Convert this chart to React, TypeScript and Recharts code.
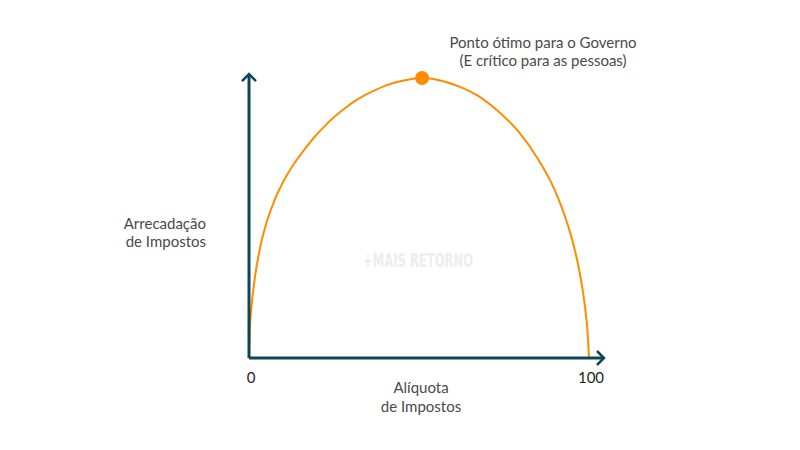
import React from "react";
import { LineChart, Line, XAxis, YAxis, ReferenceLine, ReferenceDot } from "recharts";

// Laffer-style curve (x: tax rate %, y: revenue %)
const rates = [
  0, 0.2, 0.8, 1.8, 3.2, 4.7, 7.6, 10.6, 13.5, 16.5, 19.4, 22.4, 25.3, 28.2, 31.2, 34.1, 37.1, 40.0, 42.9, 45.9, 50.9,
  55.6, 61.5, 67.4, 73.2, 79.1, 85.0, 88.8, 90.9, 92.9, 94.5, 95.9, 97.1, 98.1, 99.0, 99.6, 100,
];
const revenue = [
  0, 9, 19, 29.3, 39, 46.5, 56.6, 64.1, 69.8, 74.8, 79.1, 83, 86.3, 89.2, 91.8, 93.9, 95.7, 97.2, 98.4, 99.2, 100,
  99.3, 97.1, 93.6, 88.2, 81.1, 71.1, 62.9, 57.2, 50.7, 44.6, 38.2, 31.5, 24.5, 16.5, 9, 0,
];
const xTicks = [0, 100];
const peak = { x: 50.9, y: 100 };
const peakLabel = ["Ponto ótimo para o Governo", "(E crítico para as pessoas)"];
const yLabel = ["Arrecadação", "de Impostos"];
const xLabel = ["Alíquota", "de Impostos"];

const AXIS = "#0f4656";
const ORANGE = "#ff8c00";
const TEXT = "#4a4a4a";
const FONT = "Lato, 'Open Sans', sans-serif";

const data = rates.map((r, i) => ({ rate: r, revenue: revenue[i] }));

const Arrow = (props: any) => {
  const { x1, y1, x2, y2 } = props;
  const dx = x2 - x1;
  const dy = y2 - y1;
  const len = Math.sqrt(dx * dx + dy * dy) || 1;
  const ux = dx / len;
  const uy = dy / len;
  const s = 7;
  const p1 = `${x2 - ux * s - uy * s},${y2 - uy * s + ux * s}`;
  const p2 = `${x2 - ux * s + uy * s},${y2 - uy * s - ux * s}`;
  return (
    <g>
      <line x1={x1} y1={y1} x2={x2} y2={y2} stroke={AXIS} strokeWidth={3} />
      <polyline points={`${p1} ${x2},${y2} ${p2}`} fill="none" stroke={AXIS} strokeWidth={2.5} />
    </g>
  );
};

const Tick = (props: any) => {
  const { x, y, payload } = props;
  return (
    <text x={x + 2} y={y + 17} textAnchor="middle" fill="#222" fontSize={15} fontFamily={FONT}>
      {payload.value}
    </text>
  );
};

export default function App() {
  return (
    <div style={{ position: "absolute", left: 0, top: 0, width: 800, height: 450, background: "#fff" }}>
      <LineChart width={800} height={450} data={data} margin={{ top: 78, right: 211, bottom: 62, left: 249 }}>
        <XAxis
          dataKey="rate"
          type="number"
          domain={[0, 100]}
          ticks={xTicks}
          axisLine={false}
          tickLine={false}
          tick={<Tick />}
          height={30}
        />
        <YAxis type="number" domain={[0, 100]} hide width={0} />
        <text
          x={363}
          y={267}
          fill="#ededed"
          fontSize={20}
          fontWeight={700}
          fontFamily="'DejaVu Sans Condensed', sans-serif"
          textLength={110}
          lengthAdjust="spacingAndGlyphs"
        >
          +MAIS RETORNO
        </text>
        <Line
          dataKey="revenue"
          type="monotone"
          stroke={ORANGE}
          strokeWidth={2}
          dot={false}
          isAnimationActive={false}
        />
        <ReferenceLine segment={[{ x: 0, y: 0 }, { x: 0, y: 101.4 }]} ifOverflow="visible" shape={<Arrow />} />
        <ReferenceLine segment={[{ x: 0, y: 0 }, { x: 104.4, y: 0 }]} ifOverflow="visible" shape={<Arrow />} />
        <ReferenceDot x={peak.x} y={peak.y} r={7} fill={ORANGE} stroke="none" ifOverflow="visible" />
        <text textAnchor="middle" fill={TEXT} fontSize={15} fontFamily={FONT}>
          <tspan x={543} y={48}>{peakLabel[0]}</tspan>
          <tspan x={543} y={66}>{peakLabel[1]}</tspan>
        </text>
        <text textAnchor="end" fill={TEXT} fontSize={15} fontFamily={FONT}>
          <tspan x={206} y={229}>{yLabel[0]}</tspan>
          <tspan x={206} y={247}>{yLabel[1]}</tspan>
        </text>
        <text textAnchor="middle" fill={TEXT} fontSize={15} fontFamily={FONT}>
          <tspan x={421} y={393}>{xLabel[0]}</tspan>
          <tspan x={421} y={412}>{xLabel[1]}</tspan>
        </text>
      </LineChart>
    </div>
  );
}
